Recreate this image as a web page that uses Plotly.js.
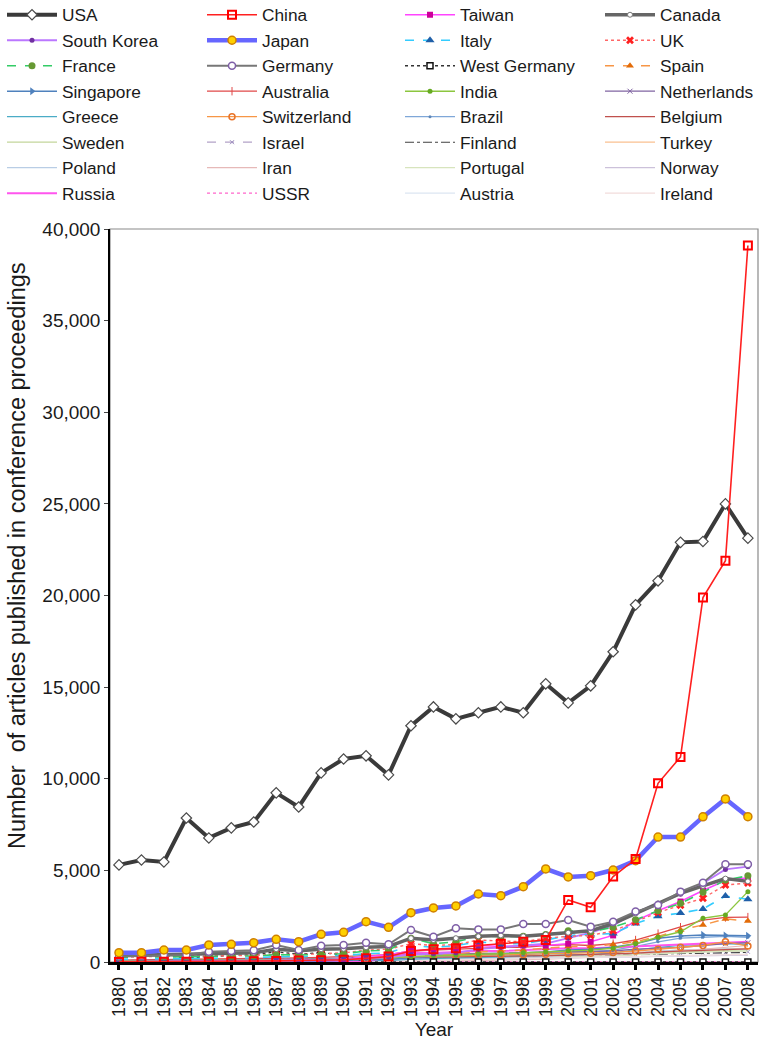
<!DOCTYPE html>
<html>
<head>
<meta charset="utf-8">
<script src="https://cdn.plot.ly/plotly-3.0.1.min.js"></script>
<style>
  html, body { margin: 0; padding: 0; background: #fff; }
  #chart { width: 764px; height: 1047px; }
</style>
</head>
<body>
<div id="chart"></div>
<script>
// Conference-proceedings articles per country, 1980-2008
const years = [1980, 1981, 1982, 1983, 1984, 1985, 1986, 1987, 1988, 1989,
               1990, 1991, 1992, 1993, 1994, 1995, 1996, 1997, 1998, 1999,
               2000, 2001, 2002, 2003, 2004, 2005, 2006, 2007, 2008];
const yearLabels = ["1980", "1981", "1982", "1983", "1984", "1985", "1986", "1987", "1988", "1989",
                    "1990", "1991", "1992", "1993", "1994", "1995", "1996", "1997", "1998", "1999",
                    "2000", "2001", "2002", "2003", "2004", "2005", "2006", "2007", "2008"];

const USA = [5300, 5570, 5460, 7860, 6770, 7320, 7640, 9230, 8460, 10320, 11080, 11250, 10210, 12890, 13920, 13270, 13600, 13920, 13600, 15180, 14140, 15070, 16930, 19490, 20800, 22900, 22950, 25000, 23130];
const China = [5, 8, 10, 15, 20, 30, 40, 60, 80, 100, 120, 200, 300, 600, 700, 750, 900, 1000, 1100, 1200, 3390, 2990, 4660, 5620, 9750, 11190, 19890, 21900, 39100];
const Taiwan = [5, 10, 15, 20, 30, 40, 50, 60, 80, 100, 150, 300, 400, 600, 700, 750, 900, 850, 900, 900, 1000, 1100, 1450, 2250, 2800, 3300, 3900, 4450, 4600];
const Canada = [350, 360, 400, 420, 450, 480, 500, 700, 620, 700, 720, 800, 850, 1300, 1200, 1300, 1400, 1450, 1400, 1500, 1600, 1700, 2100, 2650, 3200, 3750, 4150, 4550, 4400];
const SouthKorea = [20, 25, 30, 35, 40, 50, 60, 80, 100, 130, 150, 200, 250, 400, 450, 500, 700, 800, 900, 1000, 1300, 1600, 2000, 2700, 3200, 3700, 4300, 5050, 5200];
const Japan = [510, 510, 655, 655, 930, 965, 1055, 1240, 1110, 1510, 1620, 2200, 1890, 2690, 2950, 3060, 3710, 3620, 4110, 5080, 4640, 4710, 5020, 5530, 6820, 6820, 7920, 8900, 7930];
const Italy = [150, 160, 170, 180, 190, 200, 220, 300, 280, 320, 350, 450, 500, 900, 800, 900, 1100, 1000, 1000, 1200, 1450, 1500, 1550, 2100, 2500, 2670, 2890, 3600, 3420];
const UK = [280, 290, 300, 320, 330, 340, 360, 420, 400, 450, 500, 650, 700, 1000, 900, 950, 1200, 1150, 1100, 1300, 1400, 1450, 1700, 2200, 2700, 3100, 3480, 4200, 4310];
const France = [250, 260, 280, 300, 310, 320, 330, 400, 380, 420, 450, 600, 650, 1300, 1000, 1100, 1400, 1400, 1400, 1500, 1700, 1650, 1900, 2300, 2800, 3200, 3800, 4480, 4700];
const Germany = [300, 320, 380, 380, 560, 600, 640, 930, 655, 890, 930, 1055, 965, 1750, 1380, 1840, 1780, 1780, 2070, 2070, 2290, 1930, 2200, 2750, 3110, 3840, 4330, 5330, 5330];
const WestGermany = [300, 290, 380, 220, 300, 350, 400, 560, 420, 510, 400, 0, 0, 0, 0, 0, 0, 0, 0, 0, 0, 0, 0, 0, 0, 0, 0, 0, 0];
const Spain = [20, 25, 30, 35, 40, 50, 60, 80, 90, 100, 120, 180, 220, 350, 400, 450, 550, 600, 650, 750, 850, 850, 950, 1100, 1400, 1750, 2020, 2350, 2240];
const Singapore = [10, 10, 15, 20, 20, 25, 30, 40, 50, 60, 80, 120, 150, 250, 300, 350, 400, 450, 500, 550, 650, 700, 800, 1000, 1300, 1420, 1480, 1450, 1430];
const Australia = [100, 110, 120, 130, 140, 150, 160, 200, 220, 250, 280, 350, 400, 600, 650, 700, 750, 800, 800, 900, 950, 900, 1000, 1200, 1550, 1900, 2290, 2430, 2450];
const India = [60, 65, 70, 75, 80, 90, 100, 120, 130, 150, 160, 200, 220, 300, 350, 380, 420, 450, 500, 550, 620, 650, 750, 1000, 1350, 1650, 2390, 2570, 3840];
const Netherlands = [80, 85, 90, 95, 100, 110, 120, 150, 160, 180, 200, 250, 280, 400, 420, 430, 450, 470, 480, 500, 550, 560, 600, 700, 750, 800, 900, 1000, 1050];
const Greece = [10, 10, 12, 15, 15, 20, 20, 30, 35, 40, 50, 70, 80, 150, 200, 220, 250, 280, 300, 350, 400, 420, 500, 650, 800, 900, 950, 1000, 950];
const Switzerland = [60, 65, 70, 75, 80, 85, 90, 110, 120, 130, 150, 200, 220, 300, 320, 340, 360, 380, 400, 420, 450, 480, 520, 600, 700, 800, 900, 1110, 870];
const Brazil = [30, 30, 35, 40, 45, 50, 55, 70, 80, 90, 100, 130, 150, 200, 250, 300, 350, 380, 400, 450, 500, 550, 650, 850, 1100, 1300, 1350, 1400, 1350];
const Belgium = [50, 50, 55, 60, 60, 65, 70, 80, 90, 100, 110, 140, 160, 250, 260, 270, 280, 300, 320, 350, 380, 400, 420, 480, 550, 600, 650, 700, 720];
const Sweden = [50, 50, 55, 60, 60, 65, 70, 85, 90, 100, 110, 140, 160, 250, 270, 280, 290, 300, 320, 340, 360, 380, 400, 450, 500, 550, 600, 620, 600];
const Israel = [40, 40, 45, 50, 50, 55, 60, 70, 80, 90, 100, 120, 140, 220, 240, 250, 260, 270, 280, 300, 320, 330, 350, 400, 420, 460, 480, 520, 560];
const Finland = [20, 20, 25, 30, 30, 35, 40, 50, 60, 70, 80, 100, 120, 200, 220, 230, 250, 260, 280, 300, 320, 330, 350, 400, 430, 460, 480, 500, 520];
const Turkey = [5, 5, 5, 8, 8, 10, 10, 15, 20, 25, 30, 40, 50, 80, 100, 120, 150, 180, 200, 250, 300, 350, 400, 500, 600, 650, 700, 720, 740];
const Poland = [10, 10, 12, 15, 15, 20, 20, 30, 35, 40, 50, 70, 90, 150, 180, 200, 230, 250, 280, 300, 350, 380, 420, 500, 600, 650, 700, 720, 700];
const Iran = [2, 2, 3, 3, 4, 5, 5, 6, 8, 10, 15, 20, 25, 40, 50, 60, 80, 100, 130, 160, 200, 250, 300, 400, 500, 600, 700, 800, 900];
const Portugal = [5, 5, 6, 8, 8, 10, 10, 15, 20, 25, 30, 40, 50, 80, 100, 120, 150, 170, 200, 220, 250, 280, 320, 400, 450, 500, 550, 580, 600];
const Norway = [30, 30, 32, 35, 35, 40, 40, 50, 55, 60, 70, 80, 90, 150, 160, 170, 180, 190, 200, 210, 220, 230, 250, 280, 300, 330, 350, 370, 380];
const Russia = [0, 0, 0, 0, 0, 0, 0, 0, 0, 0, 0, 0, 300, 500, 490, 550, 600, 600, 650, 700, 750, 750, 800, 850, 900, 950, 1000, 1040, 1110];
const USSR = [80, 85, 90, 95, 100, 110, 120, 150, 160, 170, 180, 150, 0, 0, 0, 0, 0, 0, 0, 0, 0, 0, 0, 0, 0, 0, 0, 0, 0];
const Austria = [20, 20, 22, 25, 25, 30, 30, 40, 45, 50, 60, 70, 80, 120, 140, 150, 160, 170, 180, 200, 220, 240, 260, 300, 330, 360, 380, 400, 420];
const Ireland = [5, 5, 6, 8, 8, 10, 10, 12, 15, 18, 20, 30, 40, 60, 80, 100, 120, 140, 160, 180, 200, 220, 250, 300, 330, 360, 380, 400, 420];

// name, values, legend column, line style, marker style, draw layer (higher = on top)
const seriesTable = [
  ["USA", USA, "legend", {color: "#3a3a3a", width: 4}, {symbol: "diamond", size: 8, color: "#ffffff", line: {color: "#4a4a4a", width: 1.2}}, 9],
  ["China", China, "legend2", {color: "#ff2020", width: 1.6}, {symbol: "square-open", size: 8, color: "#ff0000", line: {width: 2}}, 10],
  ["Taiwan", Taiwan, "legend3", {color: "#ff44ff", width: 1.5}, {symbol: "square", size: 6, color: "#cc0099"}, 5],
  ["Canada", Canada, "legend4", {color: "#666666", width: 3.5}, {symbol: "circle", size: 5, color: "#ffffff", line: {color: "#777", width: 1}}, 6],
  ["South Korea", SouthKorea, "legend", {color: "#bb77ff", width: 1.8}, {symbol: "circle", size: 5, color: "#7030a0"}, 5],
  ["Japan", Japan, "legend2", {color: "#6666ff", width: 4.5}, {symbol: "circle", size: 8, color: "#ffd000", line: {color: "#d08000", width: 1.5}}, 8],
  ["Italy", Italy, "legend3", {color: "#33ccff", width: 1.6, dash: "dash"}, {symbol: "triangle-up", size: 8, color: "#1f5fa8"}, 5],
  ["UK", UK, "legend4", {color: "#ff6666", width: 1.4, dash: "dot"}, {symbol: "x", size: 7, color: "#ff2020"}, 5],
  ["France", France, "legend", {color: "#33cc66", width: 1.6, dash: "dash"}, {symbol: "circle", size: 7, color: "#669933"}, 5],
  ["Germany", Germany, "legend2", {color: "#777777", width: 2}, {symbol: "circle", size: 7, color: "#ffffff", line: {color: "#7f5fa8", width: 1.5}}, 6],
  ["West Germany", WestGermany, "legend3", {color: "#333333", width: 1.3, dash: "dot"}, {symbol: "square", size: 6, color: "#ffffff", line: {color: "#111111", width: 1.5}}, 4],
  ["Spain", Spain, "legend4", {color: "#f79646", width: 1.5, dash: "dash"}, {symbol: "triangle-up", size: 7, color: "#e36c09"}, 4],
  ["Singapore", Singapore, "legend", {color: "#4f81bd", width: 1.5}, {symbol: "triangle-right", size: 7, color: "#4f81bd"}, 3],
  ["Australia", Australia, "legend2", {color: "#e04848", width: 1.3}, {symbol: "line-ns", size: 6, color: "#e04848", line: {color: "#e04848", width: 1}}, 3],
  ["India", India, "legend3", {color: "#8cc63f", width: 1.4}, {symbol: "circle", size: 5, color: "#66aa22"}, 4],
  ["Netherlands", Netherlands, "legend4", {color: "#8064a2", width: 1.3}, {symbol: "x-thin", size: 5, color: "#8064a2", line: {color: "#8064a2", width: 1}}, 3],
  ["Greece", Greece, "legend", {color: "#4bacc6", width: 1.2}, null, 2],
  ["Switzerland", Switzerland, "legend2", {color: "#f79646", width: 1.3}, {symbol: "circle-open", size: 6, color: "#e8742a", line: {width: 1.5}}, 3],
  ["Brazil", Brazil, "legend3", {color: "#7fa7d8", width: 1.3}, {symbol: "circle", size: 3, color: "#5f87b8"}, 2],
  ["Belgium", Belgium, "legend4", {color: "#c0504d", width: 1.2}, null, 2],
  ["Sweden", Sweden, "legend", {color: "#c3d69b", width: 1.2}, null, 1],
  ["Israel", Israel, "legend2", {color: "#b3a2c7", width: 1.2, dash: "dash"}, {symbol: "x-thin", size: 4, color: "#9f8fc0", line: {color: "#9f8fc0", width: 1}}, 1],
  ["Finland", Finland, "legend3", {color: "#404040", width: 1.1, dash: "dashdot"}, null, 1],
  ["Turkey", Turkey, "legend4", {color: "#fac090", width: 1.2}, null, 1],
  ["Poland", Poland, "legend", {color: "#b9cde5", width: 1.2}, null, 1],
  ["Iran", Iran, "legend2", {color: "#e6b9b8", width: 1.2}, null, 1],
  ["Portugal", Portugal, "legend3", {color: "#d7e4bd", width: 1.2}, null, 1],
  ["Norway", Norway, "legend4", {color: "#ccc1da", width: 1.2}, null, 1],
  ["Russia", Russia, "legend", {color: "#ff55ee", width: 2}, null, 2],
  ["USSR", USSR, "legend2", {color: "#ff66cc", width: 1.3, dash: "dot"}, null, 1],
  ["Austria", Austria, "legend3", {color: "#dce6f2", width: 1.2}, null, 1],
  ["Ireland", Ireland, "legend4", {color: "#f2dcdb", width: 1.2}, null, 1]
];

const traces = seriesTable.map(function (row, i) {
  const t = {
    type: "scatter",
    name: row[0],
    x: years,
    y: row[1],
    legend: row[2],
    legendrank: i + 1,
    mode: row[4] ? "lines+markers" : "lines",
    line: row[3],
    _layer: row[5],
    hovertemplate: row[0] + " %{x}: %{y:,}<extra></extra>"
  };
  if (row[4]) t.marker = row[4];
  return t;
});
// paint low-volume series first so the leading countries sit on top
traces.sort(function (a, b) { return a._layer - b._layer; });
traces.forEach(function (t) { delete t._layer; });

// plot area in pixels: x 110..758, y 229..962
const plotLeft = 110, plotWidth = 648, plotBottom = 962, plotHeight = 733;

const legendFont = {family: "Liberation Sans, Arial, sans-serif", size: 17.3, color: "#1a1a1a"};
function column(px) {
  return {
    xref: "paper", yref: "paper",
    x: (px - plotLeft) / plotWidth,
    y: (plotBottom + 3) / plotHeight,
    xanchor: "left", yanchor: "top",
    orientation: "v", font: legendFont, itemwidth: 50,
    bgcolor: "rgba(0,0,0,0)", borderwidth: 0, tracegroupgap: 0
  };
}

const layout = {
  width: 764,
  height: 1047,
  margin: {l: 110, r: 6, t: 229, b: 85, autoexpand: false},
  paper_bgcolor: "#ffffff",
  plot_bgcolor: "#ffffff",
  font: {family: "Liberation Sans, Arial, sans-serif", color: "#1a1a1a"},
  showlegend: true,
  legend: column(2),
  legend2: column(202),
  legend3: column(400),
  legend4: column(600),
  xaxis: {
    range: [1979.6, 2008.45],
    tickmode: "array",
    tickvals: years,
    ticktext: yearLabels,
    tickangle: -90,
    tickfont: {size: 18, color: "#1a1a1a"},
    ticks: "outside", ticklen: 5, tickwidth: 2.5, tickcolor: "#000",
    showline: true, linecolor: "#000", linewidth: 2.5,
    showgrid: false, zeroline: false, automargin: false,
    title: {text: "Year", font: {size: 19, color: "#1a1a1a"}}
  },
  yaxis: {
    range: [0, 40000],
    dtick: 5000,
    tickformat: ",d",
    tickfont: {size: 19, color: "#1a1a1a"},
    ticks: "outside", ticklen: 4, tickwidth: 1, tickcolor: "#444",
    showline: true, linecolor: "#000", linewidth: 1.5,
    showgrid: false, zeroline: false, automargin: false
  },
  annotations: [{
    text: "Number  of articles published in conference proceedings",
    xref: "paper", yref: "paper",
    x: (17 - plotLeft) / plotWidth, y: (plotBottom - 556) / plotHeight,
    xanchor: "center", yanchor: "middle", textangle: -90, showarrow: false,
    font: {family: "Liberation Sans, Arial, sans-serif", size: 23.5, color: "#1a1a1a"}
  }],
  shapes: [{
    type: "rect", xref: "paper", yref: "paper", x0: 0, x1: 1, y0: 0, y1: 1,
    line: {color: "#8a8a8a", width: 1.2}, layer: "below"
  }]
};

Plotly.newPlot("chart", traces, layout, {displayModeBar: false, responsive: false});
</script>
</body>
</html>
